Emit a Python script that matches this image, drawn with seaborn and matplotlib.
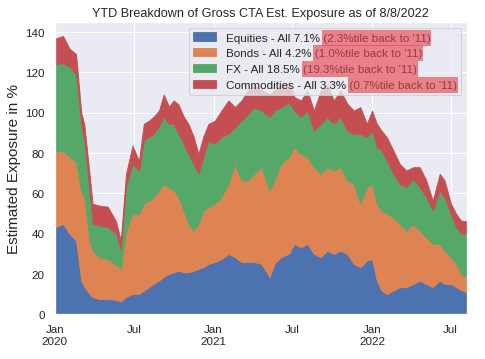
import matplotlib
matplotlib.use("Agg")
import matplotlib.pyplot as plt
import matplotlib.dates as mdates
from matplotlib.patches import Rectangle
import numpy as np
import pandas as pd
import seaborn as sns

# approximate readings (layer thickness, % exposure)
dates = ['2020-01-01', '2020-01-20', '2020-02-04', '2020-02-19', '2020-03-02', '2020-03-09',
         '2020-03-21', '2020-03-28', '2020-04-13', '2020-05-02', '2020-05-21', '2020-06-01',
         '2020-06-13', '2020-06-28', '2020-07-13', '2020-07-24', '2020-08-05', '2020-08-16',
         '2020-08-28', '2020-09-08', '2020-09-20', '2020-10-01', '2020-10-12', '2020-10-24',
         '2020-11-04', '2020-11-16', '2020-11-27', '2020-12-08', '2020-12-20', '2021-01-04',
         '2021-01-19', '2021-02-04', '2021-02-19', '2021-03-06', '2021-03-21', '2021-04-05',
         '2021-04-21', '2021-05-10', '2021-05-21', '2021-06-05', '2021-06-24', '2021-07-06',
         '2021-07-21', '2021-08-05', '2021-08-20', '2021-09-05', '2021-09-20', '2021-10-05',
         '2021-10-20', '2021-11-05', '2021-11-20', '2021-12-05', '2021-12-20', '2022-01-01',
         '2022-01-12', '2022-01-23', '2022-02-04', '2022-02-19', '2022-03-06', '2022-03-21',
         '2022-04-06', '2022-04-21', '2022-05-06', '2022-05-21', '2022-06-06', '2022-06-17',
         '2022-07-02', '2022-07-14', '2022-07-25', '2022-08-08']
equities = [43, 44.7, 39.8, 36.4, 16.5, 13.4, 10, 8.4, 7.5, 7.5, 7, 6.2,
            8.4, 10, 10, 11.6, 13.4, 15, 16.6, 18.4, 19.9, 20.7, 21.5, 20.7,
            20.7, 21.5, 22.4, 23.2, 24.9, 25.8, 27.3, 29.8, 28.2, 25.7, 25.8, 25.8,
            24.9, 18.2, 24.9, 28.2, 30, 34.8, 33.1, 34.8, 29.8, 28.2, 31.5, 29.8,
            31.5, 29.8, 24.9, 23.2, 26.5, 27.3, 16.6, 11.6, 9.9, 11.6, 13.3, 13.3,
            14.9, 16.6, 14.9, 13.3, 16.6, 14.9, 14.9, 13.3, 12, 10.5]
bonds = [37.5, 36.3, 38.2, 39.1, 44.5, 44.6, 26.4, 23.1, 20.6, 19.8, 17.5, 16.2,
         33, 39.7, 39.7, 43.1, 42.9, 43, 44.7, 46.2, 43.1, 40.6, 36.5, 30.6,
         24, 19.9, 22.3, 28.1, 28.1, 28.9, 30.7, 34.8, 46.3, 40.6, 40.5, 43.8,
         48, 43.1, 41.4, 46.3, 48, 48, 46.4, 43.1, 43.1, 41.4, 41.4, 41.4,
         41.4, 36.5, 39.7, 31.5, 36.5, 37.3, 38.1, 39.7, 39.8, 36.4, 31.4, 28.1,
         29.8, 24.8, 23.2, 21.5, 18.2, 16.6, 13.3, 11.6, 7.9, 7.5]
fx = [43.5, 43.6, 44.6, 43.5, 33, 28, 24.6, 13.2, 15.8, 15.9, 15.5, 9.6,
      21.6, 24.8, 21.5, 31.3, 31.7, 31.5, 31.7, 33.4, 31.4, 33.1, 31.5, 33.2,
      34.8, 33.1, 24.9, 26.6, 33.1, 29.8, 30, 24.9, 18.3, 29.7, 33.1, 33.1,
      28.1, 36.5, 34.7, 28.2, 27, 18.2, 18.3, 23.1, 18.1, 24.8, 24.9, 23.2,
      24.9, 24.7, 24.9, 34.8, 24.8, 26.4, 28.1, 29.9, 26.5, 21.6, 19.9, 21.6,
      22.4, 21.6, 19.9, 16.5, 26.5, 26.5, 21.5, 18.2, 20.1, 22]
commodities = [12.7, 13.4, 9.1, 10, 6, 8, 8.6, 10, 9.9, 10.1, 6, 4.5,
               6.6, 9.1, 4.8, 8.4, 8, 8.5, 8, 11, 8.6, 11.6, 14.5, 13.5,
               14.9, 13.5, 9.9, 10.1, 8.3, 11.5, 13, 16.5, 9.9, 10, 11.6, 11.3,
               10, 11.2, 10, 11.3, 10, 6.7, 8.2, 10, 10, 16.6, 16.2, 11.6,
               13.2, 13.4, 11.5, 13.2, 6.6, 10, 11.6, 9.8, 11.6, 11.6, 9.9, 8.2,
               5.8, 9.9, 8.3, 5, 8.3, 8.3, 5, 6.6, 6.4, 6]

labels = ["Equities - All 7.1% (2.3%tile back to '11)",
          "Bonds - All 4.2% (1.0%tile back to '11)",
          "FX - All 18.5% (19.3%tile back to '11)",
          "Commodities - All 3.3% (0.7%tile back to '11)"]

sns.set_theme(style='darkgrid')
plt.rcParams['font.family'] = ['Liberation Sans', 'DejaVu Sans']

x = pd.to_datetime(dates)
colors = sns.color_palette('deep', 4)

fig = plt.figure(figsize=(6.4, 4.75), dpi=485 / 6.4)
ax = fig.add_subplot(111)
fig.subplots_adjust(left=0.113, right=0.963, top=0.936, bottom=0.125)

ax.stackplot(x, equities, bonds, fx, commodities, colors=colors, labels=labels, linewidth=0.8,
             edgecolor='face')

totals = np.sum([equities, bonds, fx, commodities], axis=0)
ax.set_ylim(0, totals.max() * 1.05)
ax.set_xlim(x[0], x[-1])
ax.set_yticks(range(0, 141, 20))

ax.xaxis.set_major_locator(mdates.MonthLocator(bymonth=[1, 7]))
ax.xaxis.set_major_formatter(plt.FuncFormatter(
    lambda v, p: mdates.num2date(v).strftime('%b\n%Y') if mdates.num2date(v).month == 1
    else mdates.num2date(v).strftime('%b')))
for lbl in ax.get_xticklabels():
    lbl.set_horizontalalignment('center')

ax.set_title('YTD Breakdown of Gross CTA Est. Exposure as of 8/8/2022', fontsize=12)
ax.set_ylabel('Estimated Exposure in %', fontsize=14.5)
leg = ax.legend(loc='upper right', fontsize=11)

# red highlight over the percentile part of each legend entry
fig.canvas.draw()
r = fig.canvas.get_renderer()
inv = fig.transFigure.inverted()
for t in leg.get_texts():
    s = t.get_text()
    pre = s[:s.index('(')]
    tmp = fig.text(0, 0, pre, fontproperties=t.get_fontproperties())
    w = tmp.get_window_extent(r).width
    tmp.remove()
    bb = t.get_window_extent(r)
    (x0, y0), (x1, y1) = inv.transform([(bb.x0 + w - 1, bb.y0 - 3), (bb.x1 + 1, bb.y1 + 3)])
    fig.add_artist(Rectangle((x0, y0), x1 - x0, y1 - y0, transform=fig.transFigure,
                             facecolor='#e8414b', alpha=0.62, edgecolor='none', zorder=10))

plt.savefig('out.png', dpi=485 / 6.4)
